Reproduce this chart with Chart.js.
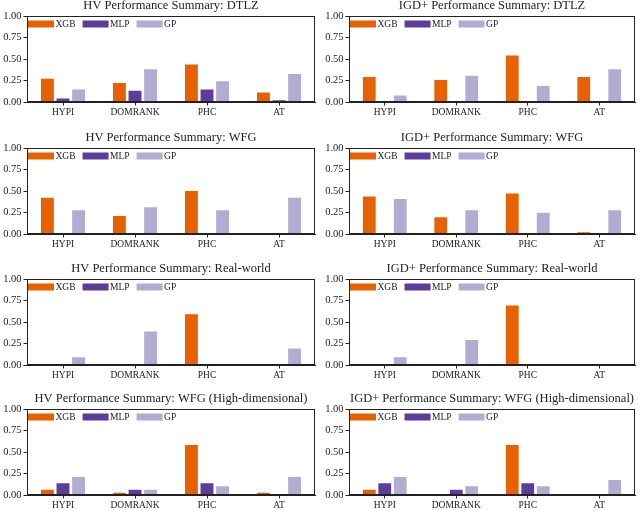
<!DOCTYPE html>
<html>
<head>
<meta charset="utf-8">
<script src="https://cdn.jsdelivr.net/npm/chart.js@4/dist/chart.umd.min.js"></script>
<style>
  html, body { margin: 0; padding: 0; background: #fff; width: 640px; height: 511px; overflow: hidden; }
  .cell { position: absolute; width: 320px; height: 119px; }
</style>
</head>
<body>
<div class="cell" style="left:0px;top:-1px"><canvas id="k0"></canvas></div>
<div class="cell" style="left:320px;top:-1px"><canvas id="k1"></canvas></div>
<div class="cell" style="left:0px;top:131px"><canvas id="k2"></canvas></div>
<div class="cell" style="left:320px;top:131px"><canvas id="k3"></canvas></div>
<div class="cell" style="left:0px;top:262px"><canvas id="k4"></canvas></div>
<div class="cell" style="left:320px;top:262px"><canvas id="k5"></canvas></div>
<div class="cell" style="left:0px;top:392px"><canvas id="k6"></canvas></div>
<div class="cell" style="left:320px;top:392px"><canvas id="k7"></canvas></div>
<script>
// ---- Data ----
const categories = ['HYPI', 'DOMRANK', 'PHC', 'AT'];
const seriesNames = ['XGB', 'MLP', 'GP'];
const yTickValues = [0, 0.25, 0.5, 0.75, 1.0];

const titles = [
  'HV Performance Summary: DTLZ',
  'IGD+ Performance Summary: DTLZ',
  'HV Performance Summary: WFG',
  'IGD+ Performance Summary: WFG',
  'HV Performance Summary: Real-world',
  'IGD+ Performance Summary: Real-world',
  'HV Performance Summary: WFG (High-dimensional)',
  'IGD+ Performance Summary: WFG (High-dimensional)'
];

const hvDtlzXGB = [0.28, 0.23, 0.445, 0.12];
const hvDtlzMLP = [0.05, 0.14, 0.155, 0.03];
const hvDtlzGP  = [0.155, 0.39, 0.25, 0.335];

const igdDtlzXGB = [0.30, 0.265, 0.55, 0.30];
const igdDtlzMLP = [0, 0.012, 0.012, 0.012];
const igdDtlzGP  = [0.085, 0.315, 0.195, 0.39];

const hvWfgXGB = [0.43, 0.22, 0.51, 0];
const hvWfgMLP = [0, 0, 0, 0];
const hvWfgGP  = [0.285, 0.32, 0.285, 0.43];

const igdWfgXGB = [0.445, 0.205, 0.48, 0.03];
const igdWfgMLP = [0, 0, 0, 0];
const igdWfgGP  = [0.415, 0.285, 0.255, 0.285];

const hvRealXGB = [0, 0, 0.60, 0];
const hvRealMLP = [0, 0, 0, 0];
const hvRealGP  = [0.10, 0.40, 0, 0.20];

const igdRealXGB = [0, 0, 0.70, 0];
const igdRealMLP = [0, 0, 0, 0];
const igdRealGP  = [0.10, 0.30, 0, 0];

const hvHighXGB = [0.07, 0.035, 0.59, 0.035];
const hvHighMLP = [0.145, 0.07, 0.145, 0];
const hvHighGP  = [0.22, 0.07, 0.11, 0.22];

const igdHighXGB = [0.07, 0, 0.59, 0];
const igdHighMLP = [0.145, 0.07, 0.145, 0];
const igdHighGP  = [0.22, 0.11, 0.11, 0.185];

const panelData = [
  [hvDtlzXGB, hvDtlzMLP, hvDtlzGP],
  [igdDtlzXGB, igdDtlzMLP, igdDtlzGP],
  [hvWfgXGB, hvWfgMLP, hvWfgGP],
  [igdWfgXGB, igdWfgMLP, igdWfgGP],
  [hvRealXGB, hvRealMLP, hvRealGP],
  [igdRealXGB, igdRealMLP, igdRealGP],
  [hvHighXGB, hvHighMLP, hvHighGP],
  [igdHighXGB, igdHighMLP, igdHighGP]
];

// ---- Styles ----
const colors = ['#e66101', '#5e3c99', '#b2abd2'];
const FONT = "'Liberation Serif', 'DejaVu Serif', serif";
const INK = '#222222';

const framePlugin = {
  id: 'frame',
  afterDraw(chart) {
    const a = chart.chartArea, ctx = chart.ctx;
    ctx.save();
    ctx.strokeStyle = INK;
    ctx.lineWidth = 1;
    ctx.strokeRect(Math.round(a.left) + 0.5, Math.round(a.top) + 0.5,
                   Math.round(a.right - a.left) - 1, Math.round(a.bottom - a.top) - 1);
    ctx.restore();
  }
};

const axesTitle = {
  id: 'axesTitle',
  afterDraw(chart, args, opts) {
    const a = chart.chartArea, ctx = chart.ctx;
    ctx.save();
    ctx.font = "12.5px " + FONT;
    ctx.fillStyle = INK;
    ctx.textAlign = 'center';
    ctx.textBaseline = 'alphabetic';
    ctx.fillText(opts.text, (a.left + a.right) / 2, a.top - 7);
    ctx.restore();
  }
};

const insideLegend = {
  id: 'insideLegend',
  afterDraw(chart) {
    const a = chart.chartArea, ctx = chart.ctx;
    ctx.save();
    ctx.font = "9.5px " + FONT;
    ctx.textBaseline = 'middle';
    let x = a.left + 1;
    const yc = a.top + 8;
    chart.data.datasets.forEach(ds => {
      ctx.fillStyle = ds.backgroundColor;
      ctx.fillRect(x, yc - 3.5, 26, 7);
      ctx.fillStyle = INK;
      ctx.fillText(ds.label, x + 27.5, yc + 0.5);
      x += 27.5 + ctx.measureText(ds.label).width + 7;
    });
    ctx.restore();
  }
};

panelData.forEach((series, i) => {
  const isRight = i % 2 === 1;
  const yWidth = isRight ? 29 : 27;
  new Chart(document.getElementById('k' + i), {
    type: 'bar',
    data: {
      labels: categories,
      datasets: series.map((vals, j) => ({
        label: seriesNames[j],
        data: vals,
        backgroundColor: colors[j],
        borderColor: 'rgba(255,255,255,0.3)',
        borderWidth: 0.8,
        categoryPercentage: 0.65,
        barPercentage: 0.93
      }))
    },
    options: {
      responsive: true,
      maintainAspectRatio: false,
      animation: false,
      layout: { padding: { left: 0, right: 5, top: 17, bottom: 0 } },
      plugins: {
        legend: { display: false },
        tooltip: { enabled: false },
        title: { display: false },
        axesTitle: { text: titles[i] }
      },
      scales: {
        x: {
          type: 'category',
          grid: { display: true, offset: false, drawOnChartArea: false, drawTicks: true, tickLength: 3.5, color: INK },
          border: { display: true, color: INK },
          ticks: { color: INK, font: { family: FONT, size: 9.5 }, padding: 1, maxRotation: 0, autoSkip: false },
          afterFit(scale) { scale.height = 16; }
        },
        y: {
          min: 0, max: 1,
          afterBuildTicks(scale) { scale.ticks = yTickValues.map(v => ({ value: v })); },
          grid: { display: true, drawOnChartArea: false, drawTicks: true, tickLength: 3.5, color: INK },
          border: { display: true, color: INK },
          ticks: { color: INK, font: { family: FONT, size: 10.5 }, padding: 2,
                   callback: v => Number(v).toFixed(2) },
          afterFit(scale) { scale.width = yWidth; }
        }
      }
    },
    plugins: [framePlugin, axesTitle, insideLegend]
  });
});
</script>
</body>
</html>
